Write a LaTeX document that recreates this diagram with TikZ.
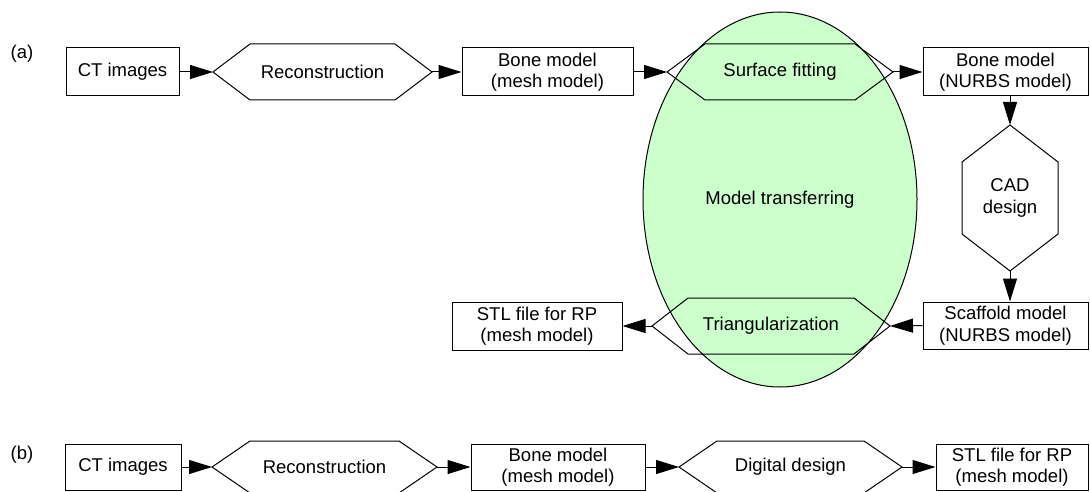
\documentclass[tikz,border=0pt]{standalone}
\usepackage{fontspec}
\setmainfont{Liberation Sans}
\usetikzlibrary{arrows.meta,calc}
\definecolor{mtgreen}{RGB}{204,255,204}
% horizontal hexagon: name, cx, cy, half width (to tip), inset, half height, text
\newcommand\hexh[7]{%
  \draw[hexline] (#2-#4,#3) -- (#2-#4+#5,#3-#6) -- (#2+#4-#5,#3-#6) -- (#2+#4,#3)
    -- (#2+#4-#5,#3+#6) -- (#2-#4+#5,#3+#6) -- cycle;
  \node[lbl] (#1) at (#2,#3) {#7};
  \coordinate (#1-w) at (#2-#4,#3);
  \coordinate (#1-e) at (#2+#4,#3);
}
% vertical hexagon: name, cx, cy, half height (to tip), inset, half width, text
\newcommand\hexv[7]{%
  \draw[hexline] (#2,#3-#4) -- (#2+#6,#3-#4+#5) -- (#2+#6,#3+#4-#5) -- (#2,#3+#4)
    -- (#2-#6,#3+#4-#5) -- (#2-#6,#3-#4+#5) -- cycle;
  \node[lbl] (#1) at (#2,#3) {#7};
  \coordinate (#1-n) at (#2,#3-#4);
  \coordinate (#1-s) at (#2,#3+#4);
}
\tikzset{
  hexline/.style={draw=black, line width=1pt, line join=miter},
  lbl/.style={inner sep=0pt, align=center, text=black},
  box/.style={draw=black, line width=1pt, inner sep=0pt, align=center, minimum height=48pt},
  arr/.style={line width=1pt, -{Triangle[length=23pt,width=14pt]}},
}
\begin{document}
\begin{tikzpicture}[x=1pt,y=-1pt,font=\fontsize{18.5}{21.5}\selectfont]
\useasboundingbox (0,0) rectangle (1090,492);
\fill[white] (0,0) rectangle (1090,492);

% ---------- (a) ----------
\node[lbl] (la) at (22,54) {(a)};
\draw[fill=mtgreen, line width=1pt] (780,199.5) ellipse [x radius=137, y radius=187.5];
\node[lbl] (mt) at (780,200) {Model transferring};

\node[box, minimum width=113pt] (ct) at (122.5,72) {CT images};
\hexh{rec}{322.5}{72}{109.5}{37}{28}{Reconstruction}
\node[box, minimum width=171pt] (bone) at (547.5,72) {Bone model\\(mesh model)};
\hexh{sf}{780}{72}{113}{38}{28}{Surface fitting}
\node[box, minimum width=165pt] (nurbs) at (1005.5,72) {Bone model\\(NURBS model)};
\hexv{cad}{1010}{198}{73}{37}{48}{CAD\\design}
\node[box, minimum width=165pt, minimum height=47pt] (scaf) at (1005.5,325.5) {Scaffold model\\(NURBS model)};
\hexh{tri}{771}{326}{119}{36}{28}{Triangularization}
\node[box, minimum width=170pt] (stl) at (537,326) {STL file for RP\\(mesh model)};

\draw[arr] (ct.east) -- (rec-w);
\draw[arr] (rec-e) -- (bone.west);
\draw[arr] (bone.east) -- (sf-w);
\draw[arr] (sf-e) -- (nurbs.west);
\draw[arr] (cad-n |- nurbs.south) -- (cad-n);
\draw[arr] (cad-s) -- (cad-s |- scaf.north);
\draw[arr] (scaf.west) -- (tri-e);
\draw[arr] (tri-w) -- (stl.east);

% ---------- (b) ----------
\node[lbl] (lb) at (22,455) {(b)};
\node[box, minimum width=116pt, minimum height=46pt] (ct2) at (123,467) {CT images};
\hexh{rec2}{324.5}{467}{112.5}{38}{26}{Reconstruction}
\node[box, minimum width=174pt, minimum height=46pt] (bone2) at (558,467) {Bone model\\(mesh model)};
\hexh{dd}{790.5}{467}{111.5}{38}{26}{Digital design}
\node[box, minimum width=152pt, minimum height=46pt] (stl2) at (1012,467) {STL file for RP\\(mesh model)};

\draw[arr] (ct2.east) -- (rec2-w);
\draw[arr] (rec2-e) -- (bone2.west);
\draw[arr] (bone2.east) -- (dd-w);
\draw[arr] (dd-e) -- (stl2.west);
\end{tikzpicture}
\end{document}
